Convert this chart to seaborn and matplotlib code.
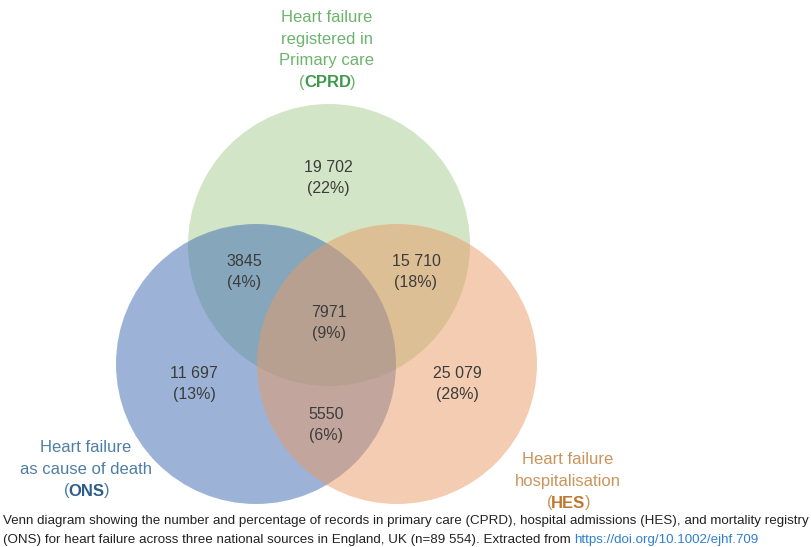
import matplotlib
matplotlib.use("Agg")
import matplotlib.pyplot as plt
from matplotlib.patches import Circle
import seaborn as sns

sns.set_theme(style="white")
plt.rcParams["font.family"] = ["Liberation Sans", "DejaVu Sans"]

# data
SETS = ["CPRD", "ONS", "HES"]
SET_TITLES = [
    "Heart failure\nregistered in\nPrimary care",
    "Heart failure\nas cause of death",
    "Heart failure\nhospitalisation",
]
REGIONS = ["CPRD only", "CPRD & ONS", "CPRD & HES", "All three",
           "ONS only", "HES only", "ONS & HES"]
COUNTS = [19702, 3845, 15710, 7971, 11697, 25079, 5550]
PERCENTS = [22, 4, 18, 9, 13, 28, 6]
TOTAL = 89554
DOI = "https://doi.org/10.1002/ejhf.709"

# layout (pixel space, y down)
W, H = 812, 547
RADIUS = {"CPRD": 141, "ONS": 140, "HES": 140}
CENTERS = {"CPRD": (329, 245), "ONS": (256, 364), "HES": (397, 364)}
FILLS = {"CPRD": "#a7cd91", "ONS": "#3b69b1", "HES": "#e99b65"}
REGION_XY = [(328, 178), (244, 272), (416, 272), (329, 323),
             (194, 384), (457, 384), (326, 425)]
TITLE_XY = {"CPRD": (327, 18), "ONS": (86, 448), "HES": (568, 460)}
TITLE_COL = {"CPRD": ("#6cb46c", "#3d9a4c"),
             "ONS": ("#4f7ea5", "#2b5e8a"),
             "HES": ("#c9955c", "#c0782e")}
LINE = 21.5


def fmt(n):
    return str(n) if n < 10000 else f"{n:,}".replace(",", " ")


def pieces(ax, r, x, y, parts, size, tight=1.0):
    # draw a centred row of differently styled text runs
    objs = [ax.text(0, y, t, fontsize=size, color=c, fontweight=w,
                    ha="left", va="center") for t, w, c in parts]
    widths = [o.get_window_extent(r).width - tight for o in objs]
    cur = x - sum(widths) / 2
    for o, wd in zip(objs, widths):
        o.set_x(cur)
        cur += wd


fig = plt.figure(figsize=(W / 100, H / 100), dpi=100)
ax = fig.add_axes([0, 0, 1, 1])
ax.set_xlim(0, W)
ax.set_ylim(H, 0)
ax.axis("off")

for s in ["CPRD", "ONS", "HES"]:
    ax.add_patch(Circle(CENTERS[s], RADIUS[s], facecolor=FILLS[s], alpha=0.5,
                        edgecolor="none"))

for (x, y), c, p in zip(REGION_XY, COUNTS, PERCENTS):
    ax.text(x, y, f"{fmt(c)}\n({p}%)", ha="center", va="center",
            fontsize=11.5, color="#3c3c3c", linespacing=1.42)

r = fig.canvas.get_renderer()
for s, title in zip(SETS, SET_TITLES):
    x, y = TITLE_XY[s]
    light, dark = TITLE_COL[s]
    lines = title.split("\n")
    for i, ln in enumerate(lines):
        ax.text(x, y + i * LINE, ln, ha="center", va="center",
                fontsize=12, color=light)
    pieces(ax, r, x, y + len(lines) * LINE,
           [("(", "normal", light), (s, "bold", dark), (")", "normal", light)], 12)

cap1 = ("Venn diagram showing the number and percentage of records in primary care (CPRD), "
        "hospital admissions (HES), and mortality registry")
cap2 = (f"(ONS) for heart failure across three national sources in England, UK "
        f"(n={fmt(TOTAL)}). Extracted from ")
ax.text(3, 521, cap1, ha="left", va="center", fontsize=9.6, color="#222222")
t2 = ax.text(3, 540, cap2, ha="left", va="center", fontsize=9.6, color="#222222")
x_link = 3 + t2.get_window_extent(r).width
ax.text(x_link, 540, DOI, ha="left", va="center", fontsize=9.6, color="#2f7fd0")

fig.savefig("out.png", dpi=100)
